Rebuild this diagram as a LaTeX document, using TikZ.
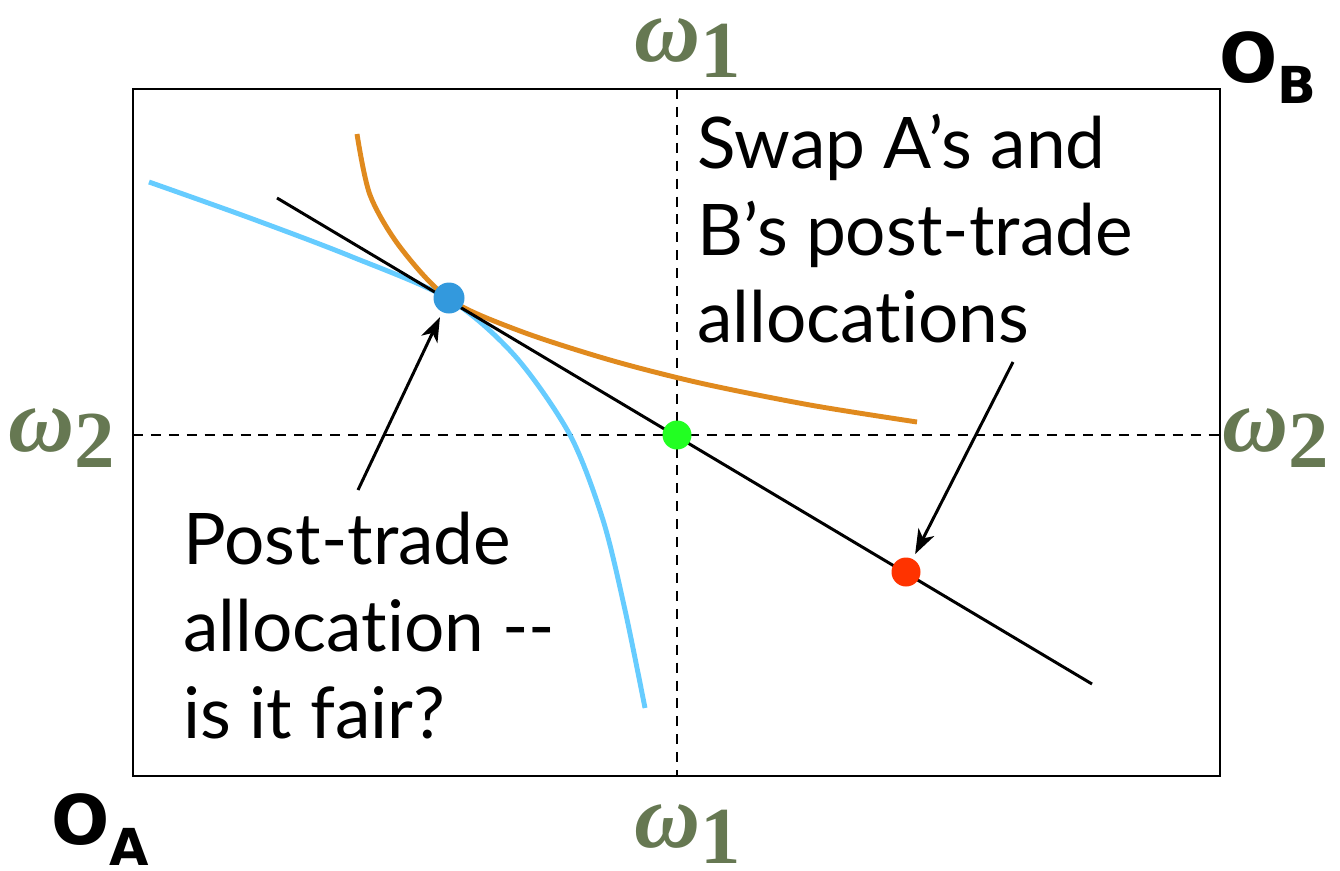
\documentclass[tikz,border=0pt]{standalone}
\usepackage{fontspec}
\usetikzlibrary{arrows.meta}
\newfontfamily\labelfont[RawFeature={-liga;-clig;-calt}]{Lato}
\newfontfamily\originfont{DejaVu Sans}
\newfontfamily\omegafont{Liberation Serif}
\definecolor{omegagreen}{HTML}{667852}
\definecolor{curveblue}{HTML}{66CCFF}
\definecolor{curveorange}{HTML}{E08A1E}
\definecolor{dotblue}{HTML}{3399DD}
\definecolor{dotgreen}{HTML}{22FF22}
\definecolor{dotred}{HTML}{FF3300}
\newcommand{\omegasym}[1]{{\itshape\fontsize{52}{60}\selectfont ω}\raisebox{-9pt}{\fontsize{46}{60}\selectfont #1}}
\tikzset{
    dot/.style={circle, inner sep=0pt, minimum size=6.2mm},
    omegalabel/.style={text=omegagreen, inner sep=0pt, font=\omegafont\bfseries},
    originlabel/.style={font=\originfont\bfseries\fontsize{39}{39}\selectfont},
    bigtext/.style={align=left, anchor=north west, inner sep=0pt,
        font=\labelfont\fontsize{40.5}{49.5}\selectfont},
    guide/.style={line width=1.1pt, dash pattern=on 5.7pt off 4.5pt},
    pointer/.style={line width=1.7pt, -{Stealth[length=14pt,width=10pt,inset=4pt]}}
}
\begin{document}
\begin{tikzpicture}[x=0.2mm, y=-0.2mm]
    \useasboundingbox (0,0) rectangle (1340,870);

    % Draw box and dashed endowment lines
    \draw[line width=1.4pt] (133,89) rectangle (1220,776);
    \draw[guide] (677,89) -- (677,776);
    \draw[guide] (133,435) -- (1220,435);

    % Origins and endowment labels
    \node[originlabel] (OB) at (1268,68) {O\raisebox{-12pt}{\fontsize{29}{29}\selectfont B}};
    \node[originlabel] (OA) at (100,830) {O\raisebox{-12pt}{\fontsize{29}{29}\selectfont A}};
    \node[omegalabel] (w1top) at (688,48) {\omegasym{1}};
    \node[omegalabel] (w1bot) at (688,834) {\omegasym{1}};
    \node[omegalabel] (w2left) at (62,438) {\omegasym{2}};
    \node[omegalabel] (w2right) at (1276,438) {\omegasym{2}};

    % Indifference curves
    \draw[curveblue, line width=2.8pt] plot[smooth] coordinates
        {(149,182) (250,218) (350,256) (449,299) (515,356) (570,435) (603,520) (625,610) (645,708)};
    \draw[curveorange, line width=2.8pt] plot[smooth] coordinates
        {(357,134) (370,195) (400,247) (449,299) (520,331) (610,360) (700,383) (810,405) (917,422)};

    % Budget line
    \draw[line width=1.7pt] (277,198) -- (1092,684);

    % Allocations
    \node[dot, fill=dotblue] (trade) at (449,298) {};
    \node[dot, fill=dotgreen, minimum size=5.8mm] (endow) at (677,435) {};
    \node[dot, fill=dotred, minimum size=5.8mm] (swap) at (906,572) {};

    % Texts and pointers
    \node[bigtext] (posttext) at (183,512) {Post-trade\\allocation --\\is it fair?};
    \node[bigtext] (swaptext) at (697,114) {Swap A’s and\\B’s post-trade\\allocations};
    \coordinate (postfoot) at (358,490);
    \coordinate (swapfoot) at (1013,362);
    \draw[pointer, shorten >=3pt] (postfoot) -- (trade);
    \draw[pointer, shorten >=3pt] (swapfoot) -- (swap);
\end{tikzpicture}
\end{document}
